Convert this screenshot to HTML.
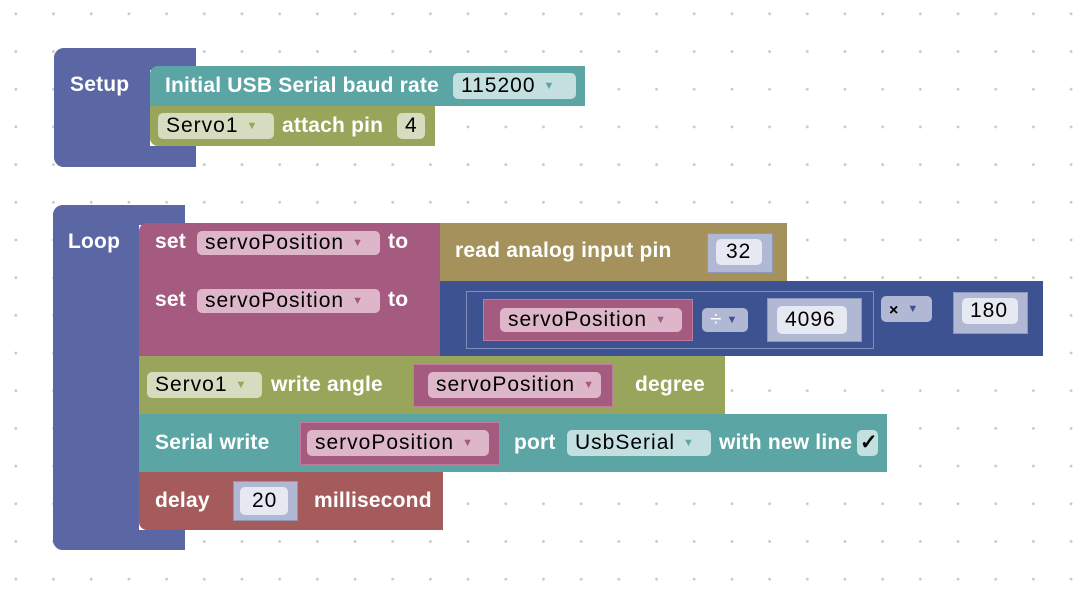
<!DOCTYPE html>
<html><head><style>
body{margin:0;width:1085px;height:611px;overflow:hidden;background:#fff;
background-image:radial-gradient(circle,#c8c8c8 1.2px,transparent 1.6px);background-size:37.7px 37.7px;background-position:-3px -5px;
font-family:"Liberation Sans",sans-serif;}
div{position:absolute;box-sizing:border-box}
.t{color:#fff;font-size:21px;font-weight:bold;letter-spacing:0.2px;line-height:24px;white-space:nowrap}
.f{color:#000;font-size:21px;letter-spacing:1px;line-height:24px;border-radius:5px;white-space:nowrap;padding-left:8px}
.a{font-size:11px;vertical-align:3px;margin-left:8px}
.pu{background:#5b67a5}.te{background:#5ba5a5}.ol{background:#99a55b}.pk{background:#a55b80;border:1px solid #c07a9b}
.go{background:#a5915b}.nv{background:#3d5291}.rd{background:#a55b5b}.nb{background:#b1b8d4;border:1px solid #8f97b8}
</style></head><body>
<!-- Setup -->
<div class="pu" style="left:54px;top:48px;width:142px;height:22px;border-radius:10px 0 0 0"></div>
<div class="pu" style="left:54px;top:48px;width:96px;height:119px;border-radius:10px 0 0 10px"></div>
<div class="pu" style="left:54px;top:146px;width:142px;height:21px;border-radius:0 0 0 10px"></div>
<div class="t" style="left:70px;top:73px">Setup</div>
<div class="te" style="left:150px;top:66px;width:435px;height:40px;border-radius:8px 0 0 0"></div>
<div class="t" style="left:165px;top:74px">Initial USB Serial baud rate</div>
<div class="f" style="left:453px;top:73px;width:123px;height:26px;background:#c4dfdf;line-height:26px">115200<span class="a" style="color:#5ba5a5">▼</span></div>
<div class="ol" style="left:150px;top:106px;width:285px;height:40px;border-radius:0 0 0 8px"></div>
<div class="f" style="left:158px;top:113px;width:116px;height:26px;background:#d6dcc0;line-height:26px">Servo1<span class="a" style="color:#99a55b">▼</span></div>
<div class="t" style="left:282px;top:114px">attach pin</div>
<div class="f" style="left:397px;top:113px;width:28px;height:26px;background:#d6dcc0;line-height:26px">4</div>
<!-- Loop -->
<div class="pu" style="left:53px;top:205px;width:132px;height:20px;border-radius:10px 0 0 0"></div>
<div class="pu" style="left:53px;top:205px;width:86px;height:345px;border-radius:10px 0 0 10px"></div>
<div class="pu" style="left:53px;top:530px;width:132px;height:20px;border-radius:0 0 0 10px"></div>
<div class="t" style="left:68px;top:230px">Loop</div>
<!-- set 1 -->
<div class="pk" style="left:139px;top:223px;width:301px;height:58px;border:none;border-radius:8px 0 0 0"></div>
<div class="t" style="left:155px;top:230px">set</div>
<div class="f" style="left:197px;top:231px;width:183px;height:24px;background:#ddb7c9">servoPosition<span class="a" style="color:#a55b80">▼</span></div>
<div class="t" style="left:388px;top:230px">to</div>
<div class="go" style="left:440px;top:223px;width:347px;height:58px"></div>
<div class="t" style="left:455px;top:239px">read analog input pin</div>
<div class="nb" style="left:707px;top:233px;width:66px;height:40px"></div>
<div class="f" style="left:716px;top:239px;width:46px;height:26px;background:#e6e9f2;padding-left:10px;line-height:26px">32</div>
<!-- set 2 -->
<div class="pk" style="left:139px;top:281px;width:301px;height:75px;border:none"></div>
<div class="t" style="left:155px;top:288px">set</div>
<div class="f" style="left:197px;top:289px;width:183px;height:24px;background:#ddb7c9">servoPosition<span class="a" style="color:#a55b80">▼</span></div>
<div class="t" style="left:388px;top:288px">to</div>
<div class="nv" style="left:440px;top:281px;width:603px;height:75px"></div>
<div class="nv" style="left:466px;top:291px;width:408px;height:58px;border:1px solid #7d8cb8"></div>
<div class="pk" style="left:483px;top:299px;width:210px;height:42px"></div>
<div class="f" style="left:500px;top:308px;width:182px;height:24px;background:#ddb7c9">servoPosition<span class="a" style="color:#a55b80">▼</span></div>
<div class="f" style="left:702px;top:308px;width:46px;height:24px;background:#b1b8d4;color:#fff">÷<span class="a" style="color:#3d5291;margin-left:4px">▼</span></div>
<div class="nb" style="left:767px;top:298px;width:95px;height:44px"></div>
<div class="f" style="left:777px;top:306px;width:70px;height:28px;background:#e6e9f2;line-height:28px">4096</div>
<div class="f" style="left:881px;top:296px;width:51px;height:26px;background:#b1b8d4;font-size:16px;font-weight:bold;line-height:26px">×<span class="a" style="color:#3d5291">▼</span></div>
<div class="nb" style="left:953px;top:292px;width:75px;height:42px"></div>
<div class="f" style="left:962px;top:298px;width:56px;height:26px;background:#e6e9f2;line-height:26px">180</div>
<!-- servo write -->
<div class="ol" style="left:139px;top:356px;width:586px;height:58px"></div>
<div class="f" style="left:147px;top:372px;width:115px;height:26px;background:#d6dcc0;line-height:26px">Servo1<span class="a" style="color:#99a55b">▼</span></div>
<div class="t" style="left:271px;top:373px">write angle</div>
<div class="pk" style="left:413px;top:364px;width:200px;height:43px"></div>
<div class="f" style="left:428px;top:372px;width:173px;height:26px;background:#ddb7c9;line-height:26px">servoPosition<span class="a" style="color:#a55b80">▼</span></div>
<div class="t" style="left:635px;top:373px">degree</div>
<!-- serial -->
<div class="te" style="left:139px;top:414px;width:748px;height:58px"></div>
<div class="t" style="left:155px;top:431px">Serial write</div>
<div class="pk" style="left:300px;top:422px;width:200px;height:43px"></div>
<div class="f" style="left:307px;top:430px;width:182px;height:26px;background:#ddb7c9;line-height:26px">servoPosition<span class="a" style="color:#a55b80">▼</span></div>
<div class="t" style="left:514px;top:431px">port</div>
<div class="f" style="left:567px;top:430px;width:144px;height:26px;background:#c4dfdf;line-height:26px">UsbSerial<span class="a" style="color:#5ba5a5">▼</span></div>
<div class="t" style="left:719px;top:431px">with new line</div>
<div class="f" style="left:857px;top:430px;width:21px;height:26px;background:#c4dfdf;padding-left:3px;line-height:26px;font-weight:bold">✓</div>
<!-- delay -->
<div class="rd" style="left:139px;top:472px;width:304px;height:58px;border-radius:0 0 0 8px"></div>
<div class="t" style="left:155px;top:489px">delay</div>
<div class="nb" style="left:233px;top:481px;width:65px;height:40px"></div>
<div class="f" style="left:240px;top:487px;width:48px;height:28px;background:#e6e9f2;line-height:28px;padding-left:12px">20</div>
<div class="t" style="left:314px;top:489px">millisecond</div>
</body></html>
